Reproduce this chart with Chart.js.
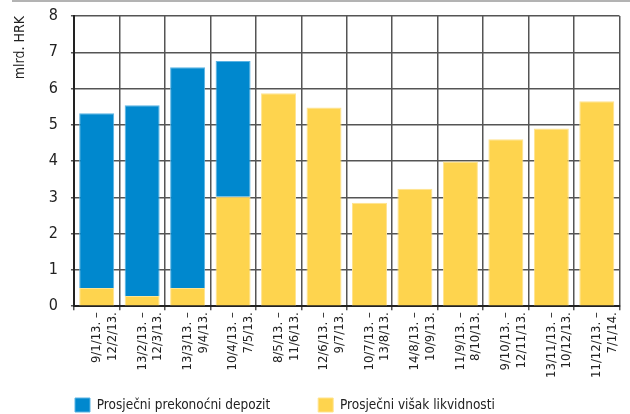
<!DOCTYPE html>
<html>
<head>
<meta charset="utf-8">
<script src="https://cdn.jsdelivr.net/npm/chart.js@4"></script>
<style>
  html, body { margin: 0; padding: 0; background: #fff; }
  #wrap { width: 630px; height: 414px; }
</style>
</head>
<body>
<div id="wrap"><canvas id="chart1"></canvas></div>
<script>
const periods = [
  ['9/1/13. –', '12/2/13.'],
  ['13/2/13. –', '12/3/13.'],
  ['13/3/13. –', '9/4/13.'],
  ['10/4/13. –', '7/5/13.'],
  ['8/5/13. –', '11/6/13.'],
  ['12/6/13. –', '9/7/13.'],
  ['10/7/13. –', '13/8/13.'],
  ['14/8/13. –', '10/9/13.'],
  ['11/9/13. –', '8/10/13.'],
  ['9/10/13. –', '12/11/13.'],
  ['13/11/13. –', '10/12/13.'],
  ['11/12/13. –', '7/1/14.']
];
// mlrd. HRK
const excessLiquidity = [0.5, 0.28, 0.5, 3.02, 5.87, 5.48, 2.85, 3.24, 3.99, 4.6, 4.9, 5.65];
const overnightDeposit = [4.82, 5.26, 6.09, 3.74, 0, 0, 0, 0, 0, 0, 0, 0];
const yTicks = [0, 1, 2, 3, 4, 5, 6, 7, 8];

const fontFamily = '"DejaVu Sans Condensed", "Liberation Sans", Arial, sans-serif';

// thin grey line across the top of the figure
const topRule = {
  id: 'topRule',
  beforeDraw(chart) {
    const ctx = chart.ctx;
    ctx.save();
    ctx.strokeStyle = '#9a9a9a';
    ctx.lineWidth = 1.5;
    ctx.beginPath();
    ctx.moveTo(12, 1);
    ctx.lineTo(chart.width, 1);
    ctx.stroke();
    ctx.restore();
  }
};

// legend: wide gap between the two items but no extra height, first box under the axis
const legendGap = 38;
const legendShift = {
  id: 'legendShift',
  beforeLayout(chart) {
    const lg = chart.legend;
    if (lg && !lg._trimmed) {
      const fit = lg.fit;
      lg.fit = function () {
        fit.call(this);
        this.height -= legendGap;
      };
      lg._trimmed = true;
    }
  },
  afterLayout(chart) {
    const lg = chart.legend;
    lg.left += 15;
    lg.right += 15;
    lg.top -= 30;
    lg.height += 30;
  }
};

new Chart('chart1', {
  type: 'bar',
  data: {
    labels: periods,
    datasets: [{
      label: 'Prosječni višak likvidnosti',
      data: excessLiquidity,
      backgroundColor: '#fed44e',
      borderColor: '#ffe38f',
      borderWidth: 1,
      barPercentage: 0.77,
      categoryPercentage: 1
    }, {
      label: 'Prosječni prekonoćni depozit',
      data: overnightDeposit,
      backgroundColor: '#0088ce',
      borderColor: '#5ab3e3',
      borderWidth: 1,
      barPercentage: 0.77,
      categoryPercentage: 1
    }]
  },
  options: {
    responsive: true,
    maintainAspectRatio: false,
    animation: false,
    layout: { padding: { top: 16, right: -16, left: 12, bottom: 0 } },
    plugins: {
      legend: {
        position: 'bottom',
        align: 'start',
        reverse: true,
        labels: {
          boxWidth: 15,
          boxHeight: 14,
          padding: 48,
          color: '#222',
          font: { family: fontFamily, size: 13.5 }
        }
      },
      tooltip: { enabled: false }
    },
    scales: {
      x: {
        stacked: true,
        grid: { color: '#555', lineWidth: 1.5, tickLength: 4, offset: true },
        border: { color: '#222', width: 2 },
        ticks: {
          minRotation: 90,
          maxRotation: 90,
          autoSkip: false,
          color: '#222',
          padding: 2,
          font: { family: fontFamily, size: 13 }
        }
      },
      y: {
        stacked: true,
        min: 0,
        max: 8,
        afterBuildTicks(axis) {
          axis.ticks = yTicks.map(v => ({ value: v }));
        },
        // long tick box so the numbers sit away from the axis, only the last 3px drawn
        grid: { color: '#555', lineWidth: 1.5, tickLength: 14, tickBorderDash: [0, 11, 3] },
        border: { color: '#222', width: 2 },
        ticks: {
          color: '#222',
          padding: 2,
          font: { family: fontFamily, size: 16 }
        },
        title: {
          display: true,
          text: 'mlrd. HRK',
          align: 'end',
          color: '#222',
          padding: { top: 0, bottom: 18 },
          font: { family: fontFamily, size: 14 }
        }
      }
    }
  },
  plugins: [topRule, legendShift]
});
</script>
</body>
</html>
